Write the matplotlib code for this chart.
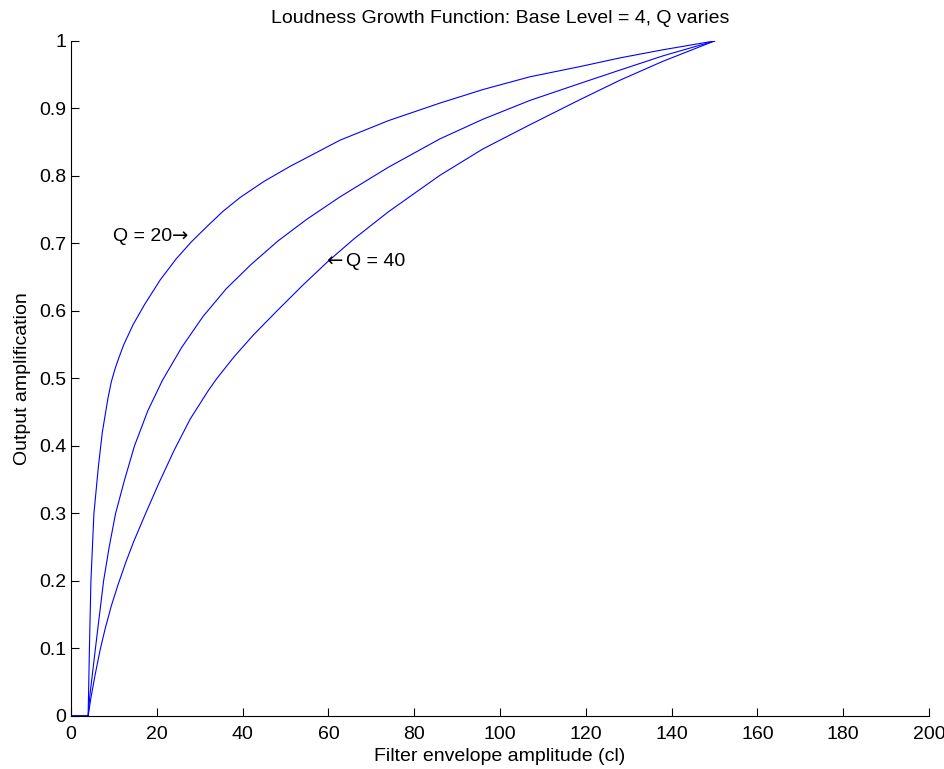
import matplotlib
matplotlib.use('Agg')
import matplotlib.pyplot as plt

plt.rcParams['font.family'] = ['Liberation Sans', 'DejaVu Sans']

# values
x_q20 = [0, 4, 4.15, 4.3, 4.65, 5.35, 6.4, 7.3, 8.6, 9.4, 10.3, 11.3, 12.3, 14.5, 17.2, 20.8, 24.5, 28, 32, 35.5,
         39.4, 45, 51, 57, 62.7, 74, 86, 96, 107, 118.6, 128, 138, 150]
y_q20 = [0, 0, 0.05, 0.1, 0.2, 0.3, 0.37, 0.42, 0.47, 0.495, 0.515, 0.533, 0.55, 0.58, 0.61, 0.646, 0.677, 0.702, 0.727, 0.748,
         0.768, 0.792, 0.814, 0.834, 0.853, 0.882, 0.908, 0.928, 0.947, 0.962, 0.975, 0.987, 1.0]

x_q30 = [0, 4, 4.4, 5.7, 7.6, 8.9, 10.4, 12.5, 14.8, 17.9, 21.3, 25.8, 30.8, 36.2, 42, 48.3, 55,
         62.7, 74, 86, 96, 107, 118.6, 128, 138, 150]
y_q30 = [0, 0, 0.03, 0.1, 0.2, 0.25, 0.3, 0.35, 0.4, 0.452, 0.497, 0.546, 0.592, 0.633, 0.669, 0.704, 0.736,
         0.769, 0.813, 0.855, 0.884, 0.912, 0.937, 0.957, 0.978, 1.0]

x_q40 = [0, 4, 4.6, 5.6, 6.8, 8.0, 9.4, 11.0, 12.8, 14.6, 17.4, 20.5, 24, 27.8, 32, 34, 38, 42.6, 48, 54, 60,
         66, 74, 86, 96, 107, 118.6, 128, 138, 150]
y_q40 = [0, 0, 0.025, 0.06, 0.098, 0.13, 0.163, 0.195, 0.228, 0.258, 0.3, 0.345, 0.393, 0.44, 0.482, 0.5, 0.532, 0.565, 0.6, 0.638, 0.674,
         0.707, 0.747, 0.801, 0.84, 0.876, 0.913, 0.942, 0.97, 1.0]

xticks = list(range(0, 201, 20))
yticks = [0, 0.1, 0.2, 0.3, 0.4, 0.5, 0.6, 0.7, 0.8, 0.9, 1]
ytick_labels = ['0', '0.1', '0.2', '0.3', '0.4', '0.5', '0.6', '0.7', '0.8', '0.9', '1']

fig = plt.figure(figsize=(9.45, 7.69), dpi=100)
ax = fig.add_axes([0.0751, 0.069, 0.908, 0.8777])

for xs, ys in [(x_q20, y_q20), (x_q30, y_q30), (x_q40, y_q40)]:
    ax.plot(xs, ys, color='#0000ff', linewidth=0.8)

ax.set_xlim(0, 200)
ax.set_ylim(0, 1)
ax.set_xticks(xticks)
ax.set_yticks(yticks)
ax.set_yticklabels(ytick_labels)
ax.tick_params(direction='in', length=6, labelsize=14, width=0.8)
ax.tick_params(axis='x', pad=7)
ax.spines['top'].set_visible(False)
ax.spines['right'].set_visible(False)

ax.set_title('Loudness Growth Function: Base Level = 4, Q varies', fontsize=14, pad=13)
ax.set_xlabel('Filter envelope amplitude (cl)', fontsize=14, labelpad=4)
ax.set_ylabel('Output amplification', fontsize=14, labelpad=6)

# labels with arrows
ax.text(23.5, 0.711, 'Q = 20', fontsize=14, ha='right', va='center')
ax.text(23.5, 0.711, '\u2192', fontsize=14, ha='left', va='center', family='DejaVu Sans')
ax.text(59.4, 0.673, '\u2190', fontsize=14, ha='left', va='center', family='DejaVu Sans')
ax.text(64.2, 0.673, 'Q = 40', fontsize=14, ha='left', va='center')

fig.savefig('out.png', dpi=100)
